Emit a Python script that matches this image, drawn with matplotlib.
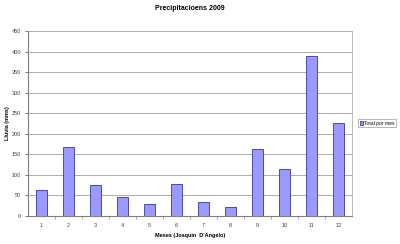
import matplotlib

matplotlib.use("Agg")

import matplotlib.pyplot as plt

MONTHS = ["1", "2", "3", "4", "5", "6", "7", "8", "9", "10", "11", "12"]
RAIN_MM = [64, 168, 76, 47, 30, 78, 35, 22, 163, 113, 390, 226]
Y_TICKS = [0, 50, 100, 150, 200, 250, 300, 350, 400, 450]

TITLE = "Precipitacioens 2009"
X_LABEL = "Meses (Joaquin  D'Angelo)"
Y_LABEL = "Lluvia (mms)"
SERIES = "Total por mes"

plt.rcParams["font.family"] = ["Liberation Sans", "DejaVu Sans"]


def main() -> None:
    fig = plt.figure(figsize=(4.0, 2.44), dpi=100)
    fig.patch.set_facecolor("white")
    ax = fig.add_axes([0.07, 0.115, 0.81, 0.758])

    x = list(range(len(MONTHS)))
    # soft grey drop shadow to the right of each bar, like the spreadsheet chart
    ax.bar([i + 0.03 for i in x], RAIN_MM, width=0.4, color="#C8C8C8", zorder=2)
    ax.bar(x, RAIN_MM, width=0.4, color="#9999FF", edgecolor="#3A3AA0",
           linewidth=0.6, zorder=3, label=SERIES)

    ax.set_ylim(0, 450)
    ax.set_xlim(-0.5, len(MONTHS) - 0.5)
    ax.set_yticks(Y_TICKS)
    ax.set_yticklabels([str(t) for t in Y_TICKS])
    ax.set_xticks(x)
    ax.set_xticklabels(MONTHS)
    ax.set_xticks([i + 0.5 for i in x[:-1]], minor=True)

    ax.grid(axis="y", color="#A0A0A0", linewidth=0.6, zorder=1)
    ax.tick_params(axis="both", which="major", labelsize=4, colors="#404040",
                   length=2, width=0.5, pad=3)
    ax.tick_params(axis="x", which="major", length=0, pad=5)
    ax.tick_params(axis="x", which="minor", length=2, width=0.5, color="#808080")
    for side in ["top", "right"]:
        ax.spines[side].set_color("#B0B0B0")
        ax.spines[side].set_linewidth(0.6)
    for side in ["left", "bottom"]:
        ax.spines[side].set_color("#808080")
        ax.spines[side].set_linewidth(0.8)

    ax.set_title(TITLE, fontsize=5, fontweight="bold", pad=15)
    ax.set_xlabel(X_LABEL, fontsize=4, fontweight="bold", labelpad=4)
    ax.set_ylabel(Y_LABEL, fontsize=4, fontweight="bold", labelpad=1)

    leg = ax.legend(loc="center left", bbox_to_anchor=(1.02, 0.5), fontsize=3.6,
                    frameon=True, fancybox=False, handlelength=0.7,
                    handleheight=0.7, handletextpad=0.2, borderpad=0.3,
                    borderaxespad=0)
    leg.get_frame().set_edgecolor("#808080")
    leg.get_frame().set_linewidth(0.5)

    fig.savefig("out.png", dpi=100)
    plt.close(fig)


if __name__ == "__main__":
    main()
